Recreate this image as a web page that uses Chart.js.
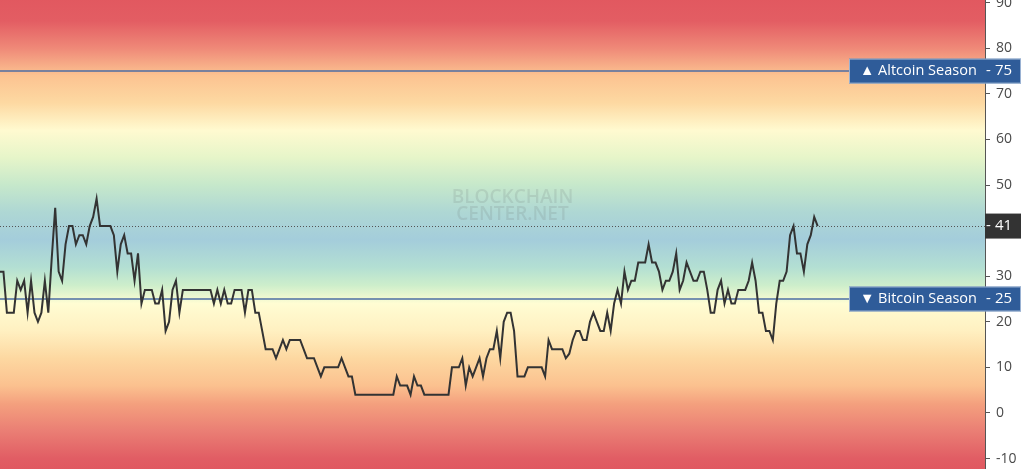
<!DOCTYPE html>
<html>
<head>
<meta charset="utf-8">
<script src="https://cdn.jsdelivr.net/npm/chart.js@4.4.1/dist/chart.umd.min.js"></script>
<style>
    html, body { margin: 0; padding: 0; background: #fff; }
    #wrap { width: 1024px; height: 469px; }
</style>
</head>
<body>
<div id="wrap"><canvas id="seasonChart"></canvas></div>
<script>
// index values, one per day
const indexValues = [
    31, 31, 22, 22, 22, 29, 27, 29, 22, 29,
    22, 20, 22, 29, 22, 34, 45, 31, 29, 37,
    41, 41, 37, 39, 39, 37, 41, 43, 47, 41,
    41, 41, 41, 39, 31, 37, 39, 35, 35, 29,
    35, 24, 27, 27, 27, 24, 24, 27, 18, 20,
    27, 29, 22, 27, 27, 27, 27, 27, 27, 27,
    27, 27, 24, 27, 24, 27, 24, 24, 27, 27,
    27, 22, 27, 27, 22, 22, 18, 14, 14, 14,
    12, 14, 16, 14, 16, 16, 16, 16, 14, 12,
    12, 12, 10, 8, 10, 10, 10, 10, 10, 12,
    10, 8, 8, 4, 4, 4, 4, 4, 4, 4,
    4, 4, 4, 4, 4, 8, 6, 6, 6, 4,
    8, 6, 6, 4, 4, 4, 4, 4, 4, 4,
    4, 10, 10, 10, 12, 6, 10, 8, 10, 12,
    8, 12, 14, 14, 18, 12, 20, 22, 22, 18,
    8, 8, 8, 10, 10, 10, 10, 10, 8, 16,
    14, 14, 14, 14, 12, 13, 16, 18, 18, 16,
    16, 20, 22, 20, 18, 18, 22, 18, 24, 27,
    24, 31, 27, 29, 29, 33, 33, 33, 37, 33,
    33, 31, 27, 29, 29, 31, 35, 27, 29, 33,
    31, 29, 29, 31, 31, 27, 22, 22, 27, 29,
    24, 27, 24, 24, 27, 27, 27, 29, 33, 29,
    22, 22, 18, 18, 16, 24, 29, 29, 31, 39,
    41, 35, 35, 31, 37, 39, 43, 41
];
const yTicks = [-10, 0, 10, 20, 30, 40, 50, 60, 70, 80, 90];
const seasonLevels = [75, 25];
const seasonLabels = ['\u25B2 Altcoin Season', '\u25BC Bitcoin Season'];
const currentValue = indexValues[indexValues.length - 1];

const FONT = '"Open Sans", "Noto Sans", sans-serif';

// background bands by index value
const bandStops = [
    [92, '#e1575f'], [86, '#e35d63'], [80, '#ef8978'], [74, '#fcc391'],
    [68, '#fdd9a2'], [62, '#fffad0'], [56, '#e6f5c9'], [50, '#c6e8cb'],
    [44, '#aed7d4'], [38, '#a4cddb'], [32, '#b3dfd3'], [28, '#cdeecb'],
    [24, '#fffdd3'], [18, '#fff0c1'], [12, '#fdd8a1'], [6, '#fbc18f'],
    [2, '#f4a07e'], [-4, '#ea7e74'], [-10, '#e15d64'], [-13, '#e0575f']
];

const backdropPlugin = {
    id: 'backdrop',
    beforeDraw(chart) {
        const ctx = chart.ctx;
        const y = chart.scales.y;
        const top = y.getPixelForValue(bandStops[0][0]);
        const bottom = y.getPixelForValue(bandStops[bandStops.length - 1][0]);
        const grad = ctx.createLinearGradient(0, top, 0, bottom);
        bandStops.forEach(([v, c]) => {
            const f = (y.getPixelForValue(v) - top) / (bottom - top);
            grad.addColorStop(Math.min(1, Math.max(0, f)), c);
        });
        ctx.save();
        ctx.fillStyle = grad;
        ctx.fillRect(0, 0, chart.chartArea.right, chart.height);
        ctx.fillStyle = '#ffffff';
        ctx.fillRect(chart.chartArea.right, 0, chart.width - chart.chartArea.right, chart.height);

        // watermark
        const cx = (chart.chartArea.left + chart.chartArea.right) / 2 + 20;
        ctx.fillStyle = 'rgba(110,120,120,0.18)';
        ctx.font = '600 19px ' + FONT;
        ctx.textAlign = 'center';
        ctx.textBaseline = 'middle';
        ctx.fillText('BLOCKCHAIN', cx, 198);
        ctx.fillText('CENTER.NET', cx, 215);
        ctx.restore();
    },
    beforeDatasetsDraw(chart) {
        const ctx = chart.ctx;
        const y = chart.scales.y;
        const area = chart.chartArea;
        ctx.save();
        // current value dotted line
        const cy = Math.round(y.getPixelForValue(currentValue)) + 0.5;
        ctx.strokeStyle = '#555';
        ctx.lineWidth = 1;
        ctx.setLineDash([1, 2]);
        ctx.beginPath();
        ctx.moveTo(area.left, cy);
        ctx.lineTo(area.right, cy);
        ctx.stroke();
        ctx.setLineDash([]);
        // season lines
        ctx.strokeStyle = '#4d6ea3';
        ctx.lineWidth = 1.5;
        seasonLevels.forEach(v => {
            const py = y.getPixelForValue(v);
            ctx.beginPath();
            ctx.moveTo(area.left, py);
            ctx.lineTo(area.right, py);
            ctx.stroke();
        });
        ctx.restore();
    },
    afterDraw(chart) {
        const ctx = chart.ctx;
        const y = chart.scales.y;
        const area = chart.chartArea;
        ctx.save();
        ctx.textBaseline = 'middle';
        seasonLevels.forEach((v, i) => {
            const py = y.getPixelForValue(v);
            ctx.fillStyle = '#2f5c99';
            ctx.fillRect(849, py - 12.5, 172, 25);
            ctx.strokeStyle = 'rgba(200,215,235,0.7)';
            ctx.lineWidth = 1;
            ctx.strokeRect(849.5, py - 12, 171, 24);
            ctx.fillStyle = '#ffffff';
            ctx.textAlign = 'left';
            ctx.font = '14.5px ' + FONT;
            ctx.fillText(seasonLabels[i], 860, py);
            ctx.font = '15px ' + FONT;
            ctx.fillText('-', 986, py);
            ctx.fillText(String(v), 995, py);
        });
        // current value tag
        const cy = y.getPixelForValue(currentValue);
        ctx.fillStyle = '#333333';
        ctx.fillRect(area.right, cy - 12.5, 36, 25);
        ctx.fillStyle = '#ffffff';
        ctx.textAlign = 'left';
        ctx.fillText('-', area.right + 1, cy);
        ctx.fillText(String(currentValue), area.right + 10, cy);
        ctx.restore();
    }
};

const chartEl = document.querySelector('#seasonChart');
new Chart(chartEl, {
    type: 'line',
    data: {
        datasets: [{
            data: indexValues.map((v, i) => ({ x: i, y: v })),
            borderColor: '#333333',
            borderWidth: 2,
            pointRadius: 0,
            tension: 0,
            fill: false
        }]
    },
    options: {
        responsive: true,
        maintainAspectRatio: false,
        animation: false,
        layout: { padding: 0 },
        plugins: {
            legend: { display: false },
            tooltip: { enabled: false }
        },
        scales: {
            x: {
                type: 'linear',
                display: false,
                min: 0,
                max: 285.5
            },
            y: {
                position: 'right',
                min: -12.3,
                max: 90.6,
                afterFit: scale => {
                    scale.width = 39;
                    scale.paddingTop = 0;
                    scale.paddingBottom = 0;
                },
                afterBuildTicks: scale => {
                    scale.ticks = yTicks.map(v => ({ value: v }));
                },
                border: { display: true, color: '#555', width: 1 },
                grid: {
                    drawOnChartArea: false,
                    drawTicks: true,
                    tickLength: 5,
                    color: '#555'
                },
                ticks: {
                    color: '#4a4a4a',
                    padding: 6,
                    font: { family: FONT, size: 14 }
                }
            }
        }
    },
    plugins: [backdropPlugin]
});
</script>
</body>
</html>
